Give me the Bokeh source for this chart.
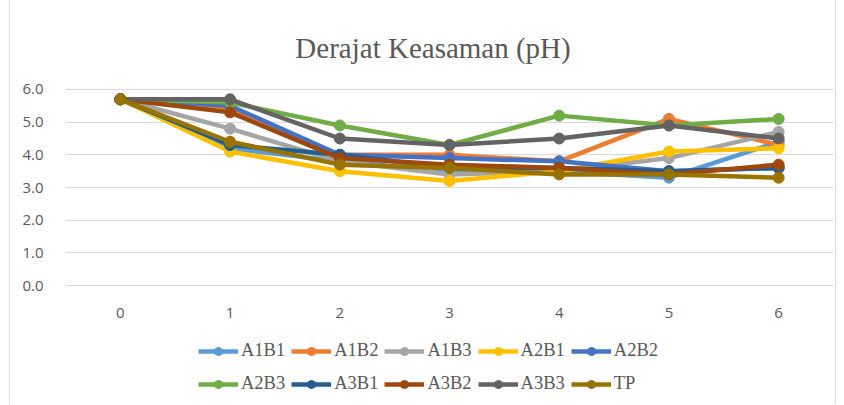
from bokeh.plotting import figure
from bokeh.models import Range1d, FixedTicker, Legend, LegendItem, Label, NumeralTickFormatter
from bokeh.core.properties import value
from bokeh.embed import file_html
from bokeh.resources import INLINE

days = [0, 1, 2, 3, 4, 5, 6]
day_labels = ["0", "1", "2", "3", "4", "5", "6"]
series_names = ["A1B1", "A1B2", "A1B3", "A2B1", "A2B2", "A2B3", "A3B1", "A3B2", "A3B3", "TP"]
A1B1 = [5.7, 4.2, 3.8, 3.5, 3.5, 3.3, 4.4]
A1B2 = [5.7, 5.4, 4.0, 4.0, 3.8, 5.1, 4.3]
A1B3 = [5.7, 4.8, 3.8, 3.4, 3.5, 3.9, 4.7]
A2B1 = [5.7, 4.1, 3.5, 3.2, 3.5, 4.1, 4.2]
A2B2 = [5.7, 5.5, 4.0, 3.9, 3.8, 3.5, 3.6]
A2B3 = [5.7, 5.6, 4.9, 4.3, 5.2, 4.9, 5.1]
A3B1 = [5.7, 4.3, 4.0, 3.6, 3.6, 3.5, 3.6]
A3B2 = [5.7, 5.3, 3.9, 3.7, 3.6, 3.4, 3.7]
A3B3 = [5.7, 5.7, 4.5, 4.3, 4.5, 4.9, 4.5]
TP = [5.7, 4.4, 3.7, 3.6, 3.4, 3.4, 3.3]
series_values = [A1B1, A1B2, A1B3, A2B1, A2B2, A2B3, A3B1, A3B2, A3B3, TP]
colors = ["#5B9BD5", "#ED7D31", "#A5A5A5", "#FFC000", "#4472C4",
          "#70AD47", "#255E91", "#9E480E", "#636363", "#997300"]
y_ticks = [0, 1, 2, 3, 4, 5, 6]
title_text = "Derajat Keasaman (pH)"

TXT = "#595959"
PX_PER_UNIT = 32.67        # vertical pixels per pH unit
TOP_PX, ZERO_PX, H = 0, 285, 403
Y_TOP = 6 + (89 - TOP_PX) / PX_PER_UNIT
Y_BOT = -(H - ZERO_PX) / PX_PER_UNIT

p = figure(width=827, height=H, output_backend="svg", toolbar_location=None,
           x_range=Range1d(-0.5, 6.5), y_range=Range1d(Y_BOT, Y_TOP),
           min_border_left=55, min_border_right=4, min_border_top=0, min_border_bottom=0)
p.styles = {"margin-left": "9px", "border-left": "1px solid #D9D9D9",
            "border-right": "1px solid #D9D9D9"}
p.outline_line_color = None
p.background_fill_color = "white"
p.border_fill_color = "white"

p.xgrid.grid_line_color = None
p.xaxis.visible = False
p.ygrid.grid_line_color = "#D9D9D9"
p.ygrid.grid_line_width = 1
p.ygrid.ticker = FixedTicker(ticks=y_ticks)

p.yaxis.ticker = FixedTicker(ticks=y_ticks)
p.yaxis.formatter = NumeralTickFormatter(format="0.0")
p.yaxis.axis_line_color = None
p.yaxis.major_tick_line_color = None
p.yaxis.minor_tick_line_color = None
p.yaxis.major_label_text_color = TXT
p.yaxis.major_label_text_font = "Open Sans"
p.yaxis.major_label_text_font_size = "15px"
p.yaxis.major_label_standoff = 16

# category (x) tick labels under the zero line
p.text(x=days, y=[-27 / PX_PER_UNIT] * len(days), text=day_labels,
       text_align="center", text_baseline="middle", text_color=TXT,
       text_font=value("Open Sans"), text_font_size="15px")

items = []
for name, vals, c in zip(series_names, series_values, colors):
    r1 = p.line(days, vals, line_color=c, line_width=4.5)
    r2 = p.scatter(days, vals, marker="circle", size=11, fill_color=c, line_color=c)
    items.append(LegendItem(label=name, renderers=[r1, r2]))

p.add_layout(Label(x=2.85, y=(ZERO_PX - 47) / PX_PER_UNIT, text=title_text,
                   text_align="center", text_baseline="middle",
                   text_font="Liberation Serif", text_font_size="29px", text_color=TXT))

for row, loc in ((items[:5], (133, 42)), (items[5:], (133, 9))):
    lg = Legend(items=row, orientation="horizontal", location=loc,
                glyph_width=40, glyph_height=20, label_height=20, label_standoff=3,
                spacing=6, padding=0, margin=0,
                label_text_font="Liberation Serif", label_text_font_size="18.5px",
                label_text_color=TXT, background_fill_alpha=0, border_line_color=None)
    p.add_layout(lg, "center")

open("out.html", "w").write(file_html(p, INLINE))
